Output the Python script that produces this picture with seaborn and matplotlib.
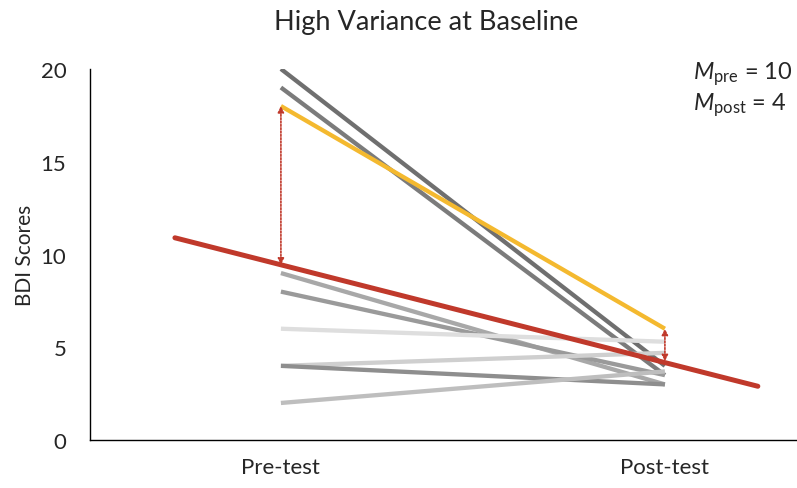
import matplotlib
matplotlib.use("Agg")
import matplotlib.pyplot as plt
import seaborn as sns
import pandas as pd

# Data
time_labels = ["Pre-test", "Post-test"]
pre_scores = [20, 19, 18, 9, 8, 6, 4, 4, 2]
post_scores = [4.0, 3.5, 6.0, 3.0, 3.5, 5.3, 4.7, 3.0, 3.7]
line_colors = ["#6f6f6f", "#7b7b7b", "#F4B92F", "#a8a8a8", "#9a9a9a",
               "#dedede", "#cfcfcf", "#8e8e8e", "#bebebe"]
reg_x = [-0.276, 1.242]
reg_y = [10.9, 2.9]
reg_pre, reg_post = 9.45, 4.25
highlight_idx = 2
m_pre, m_post = 10, 4

sns.set_style("white")
plt.rcParams["font.family"] = ["Lato", "DejaVu Sans"]
plt.rcParams["mathtext.fontset"] = "custom"
plt.rcParams["mathtext.rm"] = "Lato"
plt.rcParams["mathtext.it"] = "Lato:italic"

fig = plt.figure(figsize=(7.97, 4.89), dpi=100)
ax = fig.add_axes([0.113, 0.098, 0.887, 0.759])

order = [0, 1, 3, 4, 5, 6, 7, 8, 2]
for i in order:
    df = pd.DataFrame({"x": [0, 1], "y": [pre_scores[i], post_scores[i]]})
    sns.lineplot(data=df, x="x", y="y", color=line_colors[i], lw=3.1,
                 ax=ax, solid_capstyle="butt", zorder=3 if i == highlight_idx else 2)

# regression line
sns.lineplot(x=reg_x, y=reg_y, color="#C0392B", lw=3.6, ax=ax, zorder=4)

# dotted arrows (residuals)
arrow_kw = dict(arrowstyle="<|-|>", color="#C0392B", lw=1.2, linestyle=(0, (1, 1)),
                mutation_scale=9, shrinkA=0, shrinkB=0)
ax.annotate("", xy=(0, pre_scores[highlight_idx]), xytext=(0, reg_pre),
            arrowprops=arrow_kw, zorder=5)
ax.annotate("", xy=(1, post_scores[highlight_idx]), xytext=(1, reg_post),
            arrowprops=arrow_kw, zorder=5)

ax.set_xlim(-0.497, 1.344)
ax.set_ylim(0, 20)
ax.set_xticks([0, 1])
ax.set_xticklabels(time_labels, fontsize=16)
ax.set_yticks([0, 5, 10, 15, 20])
ax.set_yticklabels([str(v) for v in [0, 5, 10, 15, 20]], fontsize=16)
ax.tick_params(axis="x", length=0, pad=12)
ax.tick_params(axis="y", length=0, pad=17)
ax.set_xlabel("")
ax.set_ylabel("BDI Scores", fontsize=15, labelpad=4)
for s in ["top", "right"]:
    ax.spines[s].set_visible(False)
for s in ["left", "bottom"]:
    ax.spines[s].set_color("black")
    ax.spines[s].set_linewidth(1.0)

fig.text(0.535, 0.953, "High Variance at Baseline", ha="center", va="center", fontsize=19.5)

ax.text(0.853, 0.99, r"$\mathit{M}_{\mathrm{pre}}$ = " + str(m_pre), transform=ax.transAxes,
        fontsize=17, ha="left", va="center")
ax.text(0.853, 0.905, r"$\mathit{M}_{\mathrm{post}}$ = " + str(m_post), transform=ax.transAxes,
        fontsize=17, ha="left", va="center")

fig.savefig("out.png", dpi=100)
